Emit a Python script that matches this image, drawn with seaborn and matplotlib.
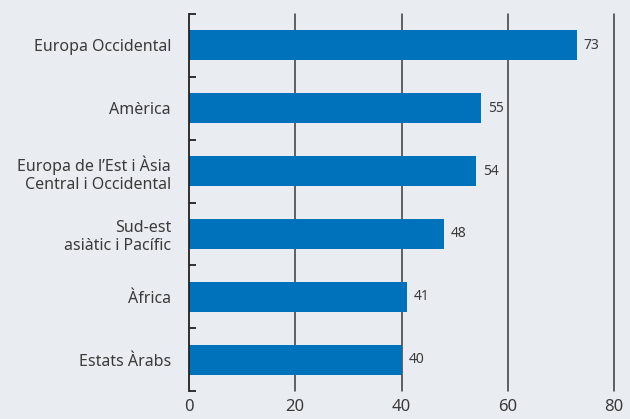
import matplotlib
matplotlib.use("Agg")
import matplotlib.pyplot as plt
import seaborn as sns
import pandas as pd
import numpy as np

regions = ["Europa Occidental", "Amèrica", "Europa de l’Est i Àsia\nCentral i Occidental",
           "Sud-est\nasiàtic i Pacífic", "Àfrica", "Estats Àrabs"]
values = [73, 55, 54, 48, 41, 40]
xticks = [0, 20, 40, 60, 80]

sns.set_theme(style="white")
plt.rcParams['font.family'] = ['Noto Sans', 'DejaVu Sans']
plt.rcParams['ytick.left'] = True

bg = "#e9edf2"
bar_color = "#0071bb"
txt = "#3a3a3a"

df = pd.DataFrame({"region": regions, "value": values})

fig = plt.figure(figsize=(6.30, 4.19), dpi=100, facecolor=bg)
ax = fig.add_axes([189/630, (419-391)/419, 425/630, 377/419])
ax.set_facecolor(bg)

for xv in xticks[1:]:
    ax.axvline(xv, color="#3a3a3a", lw=1.1, zorder=0, clip_on=False)

sns.barplot(data=df, y="region", x="value", orient="h", color=bar_color,
            saturation=1, width=0.48, ax=ax, zorder=2, linewidth=0, edgecolor="none")

ax.set_xlim(0, 80)
ax.set_ylim(5.5, -0.5)
ax.set_xlabel("")
ax.set_ylabel("")

for i, v in enumerate(values):
    ax.text(v + 1.3, i, str(v), va="center", ha="left", fontsize=10, color=txt)

ax.set_xticks(xticks)
ax.set_xticklabels([str(x) for x in xticks], fontsize=12, color=txt)
ax.tick_params(axis="x", length=0, pad=6)
ax.tick_params(axis="y", which="major", left=False, length=0, pad=13, labelsize=11.5, labelcolor=txt)
ax.set_yticks(np.arange(-0.5, 6, 1), minor=True)
ax.tick_params(axis="y", which="minor", left=True, direction="in", length=5, width=1.3, color="#222222")

for s in ["top", "right", "bottom"]:
    ax.spines[s].set_visible(False)
ax.spines["left"].set_color("#222222")
ax.spines["left"].set_linewidth(1.3)

fig.savefig("out.png", dpi=100, facecolor=bg)
